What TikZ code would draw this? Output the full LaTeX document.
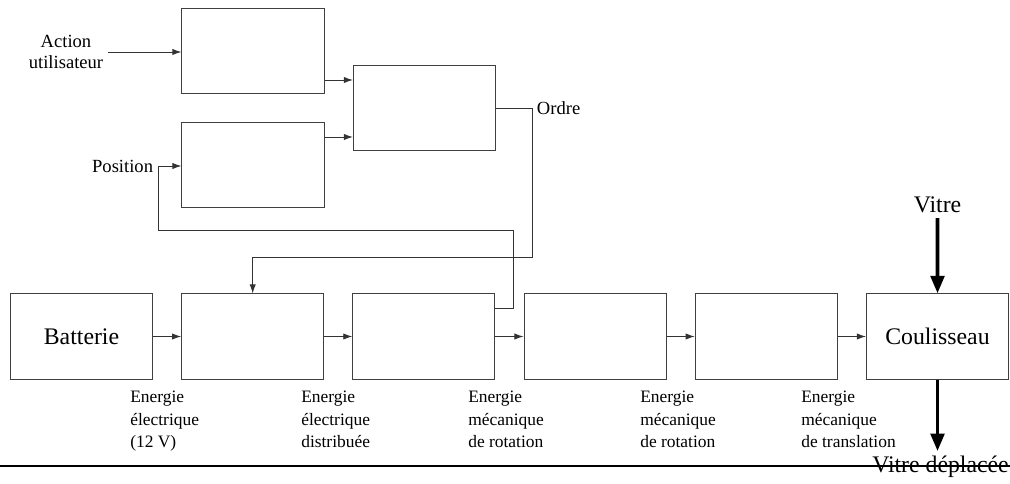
\documentclass[tikz,border=0pt]{standalone}
\usepackage{fontspec}
\setmainfont{Liberation Serif}
\usetikzlibrary{arrows.meta}

\tikzset{
  bloc/.style={draw=black!75, line width=.7pt, minimum width=3.55cm, minimum height=2.125cm, inner sep=0pt, font=\fontsize{16.9}{20}\selectfont},
  fleche/.style={draw=black!80, line width=.7pt, -{Latex[length=6.5pt,width=4.5pt]}},
  grossefleche/.style={draw=black, line width=2.8pt, -{Triangle[length=12.5pt,width=9.5pt]}},
  etiq/.style={draw=none, align=center, font=\fontsize{13.2}{15}\selectfont},
  grandetiq/.style={draw=none, font=\fontsize{16.9}{20}\selectfont},
  energie/.style={draw=none, anchor=north west, inner sep=0pt, align=left, font=\fontsize{12.4}{16}\selectfont}
}

\begin{document}
\begin{tikzpicture}[x=0.025cm, y=-0.025cm]
\useasboundingbox (0,0) rectangle (1010,484);

% commande
\node[bloc](t1)at(253,51){};
\node[bloc](t2)at(253,165){};
\node[bloc](t3)at(424.5,108){};

\node[etiq](action)at(66,52){Action\\utilisateur};
\node[etiq, anchor=east](position)at(158,166){Position};
\node[etiq, anchor=west](ordre)at(532,108){Ordre};

\draw[fleche](action.east) -- (action.east -| t1.west);
\draw[fleche](t1.east |- 0,80) -- (t3.west |- 0,80);
\draw[fleche](t2.east |- 0,137) -- (t3.west |- 0,137);

% chaine d'energie
\foreach \i/\txt in {1/Batterie, 2/, 3/, 4/, 5/, 6/Coulisseau}{
  \node[bloc](b\i)at({81.5+171.2*(\i-1)},336.5){\txt};}

\foreach \i [evaluate=\i as \j using int(\i+1)] in {1,...,5}{
  \draw[fleche](b\i) -- (b\j);}

\foreach \x/\txt [count=\n] in {130/{Energie\\électrique\\(12 V)}, 301/{Energie\\électrique\\distribuée}, 468/{Energie\\mécanique\\de rotation}, 640/{Energie\\mécanique\\de rotation}, 801/{Energie\\mécanique\\de translation}}{
  \node[energie](en\n)at(\x,391){\txt};}

% ordre et retour
\draw[fleche](t3.east) -- (ordre.west) |- (b2.north |- 0,257) -- (b2.north);
\draw[fleche](b3.east |- 0,308) -| (513,230) -| (position.east) -- (t2.west |- position.east);

% vitre
\node[grandetiq](vitre)at(937.5,205){Vitre};
\node[grandetiq](vdep)at(940.5,467){Vitre déplacée};
\draw[grossefleche](vitre) -- (b6);
\draw[grossefleche](b6.south) -- (b6.south |- vdep.north);

\draw[line width=1pt](0,466) -- (1010,466);

\end{tikzpicture}
\end{document}
